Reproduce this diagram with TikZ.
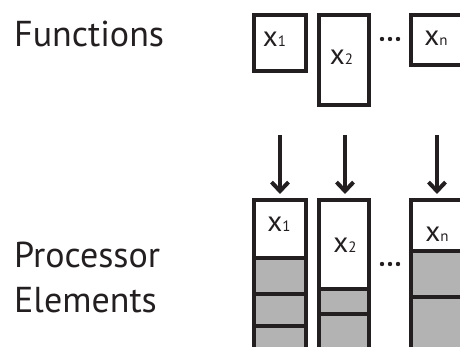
\documentclass[tikz,border=0pt]{standalone}
\usepackage{fontspec}
\setmainfont{PT Sans}
\usetikzlibrary{arrows.meta}
\definecolor{ink}{HTML}{231F20}
\definecolor{cellgray}{HTML}{B3B3B3}
\tikzset{
  box/.style={draw=ink, line width=4.4pt, fill=white, inner sep=0pt, outer sep=0pt},
  lbl/.style={anchor=base, inner sep=0pt, font=\fontsize{29}{31}\selectfont, text=ink},
  title/.style={anchor=base west, inner sep=0pt, font=\fontsize{36}{42}\selectfont, text=ink},
  divider/.style={draw=ink, line width=4.4pt},
  feed/.style={draw=ink, line width=4pt, -{Straight Barb[length=9pt,width=17pt,line width=4pt]}, shorten >=6pt},
}
\newcommand{\sbs}[1]{{\fontsize{15}{17}\selectfont #1}}
\begin{document}
\begin{tikzpicture}[x=1pt,y=-1pt]
\clip (0,0) rectangle (460,347);
\fill[white] (0,0) rectangle (460,347);
% titles
\node[title] (tf) at (14,47) {Functions};
\node[title] (tp) at (14,267) {Processor};
\node[title] (te) at (14,312) {Elements};
% function boxes
\node[box, minimum width=52pt, minimum height=56pt] (f1) at (280,43) {};
\node[box, minimum width=50pt, minimum height=90pt] (f2) at (344,60) {};
\node[box, minimum width=70pt, minimum height=50pt] (fn) at (446,40) {};
\node[lbl] (lf1) at (274.5,47) {x\sbs{1}};
\node[lbl] (lf2) at (341.5,65) {x\sbs{2}};
\node[lbl] (lfn) at (436,46) {x\sbs{n}};
% dots
\foreach \i/\x in {1/382,2/390,3/398}{
  \fill[ink] (\x,39) circle (2.2pt);
  \fill[ink] (\x,264) circle (2.2pt);
}
% processor columns (gray bodies)
\filldraw[fill=cellgray, draw=ink, line width=4.4pt] (254,200) rectangle (306,370);
\filldraw[fill=cellgray, draw=ink, line width=4.4pt] (319,200) rectangle (369,370);
\filldraw[fill=cellgray, draw=ink, line width=4.4pt] (411,200) rectangle (481,370);
% white top cells
\node[box, minimum width=52pt, minimum height=58pt] (p1) at (280,229) {};
\node[box, minimum width=50pt, minimum height=89pt] (p2) at (344,244.5) {};
\node[box, minimum width=70pt, minimum height=51pt] (pn) at (446,225.5) {};
\node[lbl] (lp1) at (279,232) {x\sbs{1}};
\node[lbl] (lp2) at (345,252) {x\sbs{2}};
\node[lbl] (lpn) at (437,242) {x\sbs{n}};
% dividers
\draw[divider] (254,294) -- (306,294);
\draw[divider] (254,326) -- (306,326);
\draw[divider] (319,314) -- (369,314);
\draw[divider] (411,297) -- (481,297);
% arrows
\coordinate (a1) at (280,135);
\coordinate (a2) at (345,135);
\coordinate (an) at (437,135);
\draw[feed] (a1) -- (a1 |- p1.north);
\draw[feed] (a2) -- (a2 |- p2.north);
\draw[feed] (an) -- (an |- pn.north);
\end{tikzpicture}
\end{document}
